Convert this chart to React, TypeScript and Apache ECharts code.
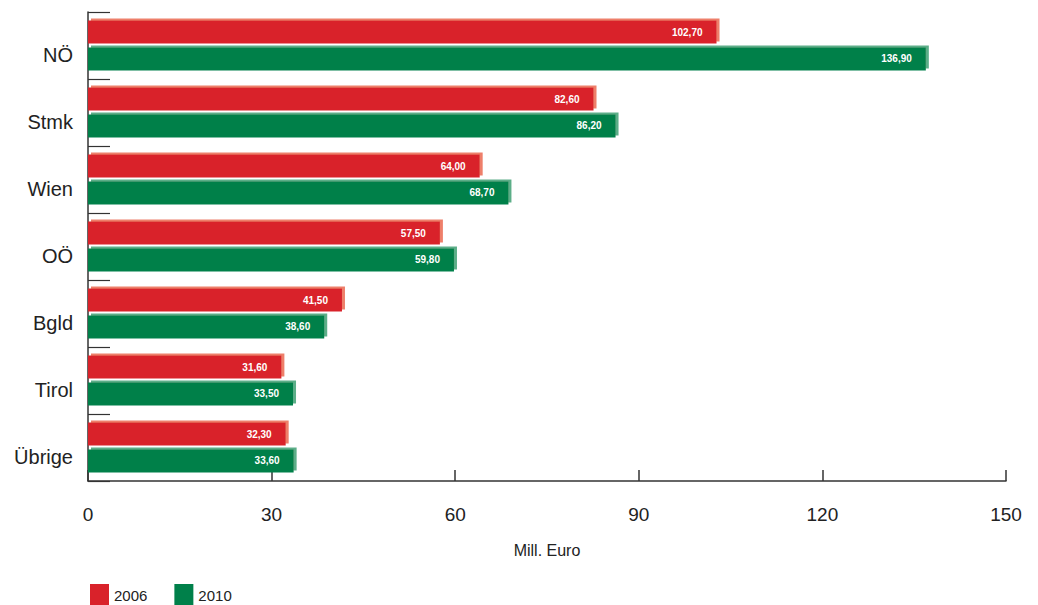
import React, { useEffect, useRef } from "react";
import * as echarts from "echarts";

const categories = ["NÖ", "Stmk", "Wien", "OÖ", "Bgld", "Tirol", "Übrige"];
const values2006 = [102.7, 82.6, 64.0, 57.5, 41.5, 31.6, 32.3];
const values2010 = [136.9, 86.2, 68.7, 59.8, 38.6, 33.5, 33.6];
const seriesNames = ["2006", "2010"];
const xTicks = [0, 30, 60, 90, 120, 150];

const RED = "#d9222a";
const RED_LIGHT = "#ee7f6a";
const GREEN = "#00804a";
const GREEN_LIGHT = "#5cae88";

export default function App() {
  const ref = useRef<HTMLDivElement>(null);
  useEffect(() => {
    const chart = echarts.init(ref.current!, null, { renderer: "svg" });
    const fmt = (p: any) => Number(p.value).toFixed(2).replace(".", ",");
    const mkSeries = (name: string, data: number[], color: string, light: string) => ({
      name,
      type: "bar",
      data,
      barWidth: 23,
      barGap: "17%",
      itemStyle: {
        color,
        shadowColor: light,
        shadowOffsetX: 3,
        shadowOffsetY: -2,
        shadowBlur: 0,
      },
      label: {
        show: true,
        position: "insideRight",
        distance: 14,
        color: "#ffffff",
        fontSize: 10,
        fontWeight: "bold",
        fontFamily: "Liberation Sans, Arial, sans-serif",
        formatter: fmt,
      },
      emphasis: { disabled: true },
    });
    chart.setOption({
      animation: false,
      textStyle: { fontFamily: "Liberation Sans, Arial, sans-serif" },
      grid: { left: 88, right: 32, top: 12, bottom: 124, containLabel: false },
      legend: {
        data: seriesNames,
        left: 85,
        bottom: -6,
        itemWidth: 19,
        itemHeight: 22,
        itemGap: 27,
        icon: "rect",
        textStyle: { fontSize: 15, color: "#222", padding: [8, 0, 0, 0] },
      },
      xAxis: {
        type: "value",
        min: 0,
        max: 150,
        interval: 30,
        name: "Mill. Euro",
        nameLocation: "middle",
        nameGap: 61,
        nameTextStyle: { fontSize: 16, color: "#222" },
        axisLine: { show: true, lineStyle: { color: "#333", width: 1.5 } },
        axisTick: { show: true, inside: true, length: 11, lineStyle: { color: "#333", width: 1.5 } },
        axisLabel: {
          fontSize: 19,
          color: "#222",
          margin: 24,
          formatter: (v: number) => (xTicks.includes(v) ? String(v) : ""),
        },
        splitLine: { show: false },
      },
      yAxis: {
        type: "category",
        data: categories,
        inverse: true,
        axisLine: { show: true, lineStyle: { color: "#333", width: 1.5 } },
        axisTick: { show: true, inside: true, length: 22, lineStyle: { color: "#333", width: 1.2 } },
        axisLabel: {
          fontSize: 20,
          color: "#222",
          margin: 15,
          formatter: (v: string) => `{c|${v}}`,
          rich: { c: { fontSize: 20, color: "#222", padding: [18, 0, 0, 0] } },
        },
      },
      series: [
        mkSeries(seriesNames[0], values2006, RED, RED_LIGHT),
        mkSeries(seriesNames[1], values2010, GREEN, GREEN_LIGHT),
      ],
    });
    return () => chart.dispose();
  }, []);
  return <div ref={ref} style={{ width: 1038, height: 605, position: "absolute", left: 0, top: 0 }} />;
}
